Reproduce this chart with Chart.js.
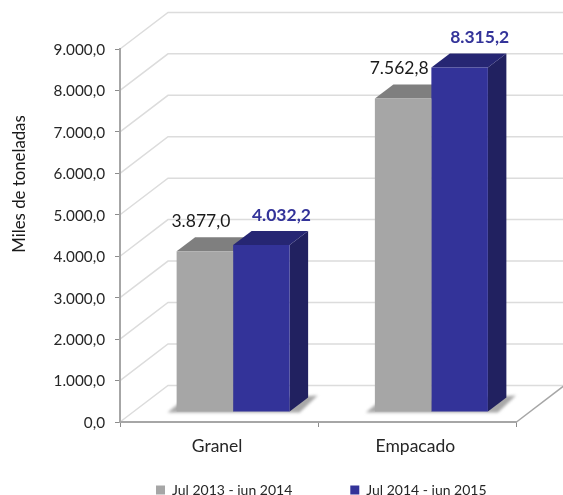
<!DOCTYPE html>
<html>
<head>
<meta charset="utf-8">
<style>html,body{margin:0;padding:0;background:#fff}canvas{display:block}</style>
<script src="https://cdn.jsdelivr.net/npm/chart.js@4"></script>
</head>
<body>
<canvas id="c" width="563" height="495"></canvas>
<script>
const categories = ['Granel', 'Empacado'];
const seriesNames = ['Jul 2013 - jun 2014', 'Jul 2014 - jun 2015'];
const values2014 = [3877.0, 7562.8];
const values2015 = [4032.2, 8315.2];
const axisTitle = 'Miles de toneladas';
const fontFamily = 'Lato, "Open Sans", sans-serif';

const fmt = v => {
  const [a, b] = v.toFixed(1).split('.');
  return a.replace(/\B(?=(\d{3})+$)/g, '.') + ',' + b;
};

const WALL = {dx: 48, dy: -36.6};
const BAR_OFF = {dx: 14, dy: -10};
const DEPTH = {dx: 18.5, dy: -14};
const faces = [
  {front: '#a6a6a6', top: '#7f7f7f', side: '#6d6d6d', label: '#1a1a1a', bold: false, ldx: -4, size: 17.5},
  {front: '#333399', top: '#262673', side: '#212160', label: '#333399', bold: true, ldx: 20, size: 17.5}
];

function poly(ctx, pts, fill) {
  ctx.beginPath();
  pts.forEach((p, i) => i ? ctx.lineTo(p[0], p[1]) : ctx.moveTo(p[0], p[1]));
  ctx.closePath();
  ctx.fillStyle = fill;
  ctx.fill();
}

const scene = {
  id: 'scene',
  beforeLayout(chart) {
    const lg = chart.legend;
    if (lg && !lg._fixed) {
      const f = lg.fit;
      lg.fit = function () { f.call(this); this.height = 20; };
      lg._fixed = true;
    }
  },
  afterLayout(chart) {
    const lg = chart.legend;
    lg.left = 156 - lg.options.labels.padding;
    lg.right = lg.left + 480;
    lg.top = 483 - lg.options.labels.padding;
  },
  beforeDraw(chart) {
    const {ctx, scales: {x, y}} = chart;
    const l = x.left, r = x.right;
    ctx.save();
    ctx.lineWidth = 1.5;
    ctx.strokeStyle = '#dcdcdc';
    y.ticks.forEach(t => {
      const py = y.getPixelForValue(t.value);
      ctx.beginPath();
      ctx.moveTo(l, py);
      ctx.lineTo(l + WALL.dx, py + WALL.dy);
      ctx.lineTo(r + WALL.dx, py + WALL.dy);
      ctx.stroke();
    });
    const b = y.getPixelForValue(0);
    ctx.strokeStyle = '#a6a6a6';
    ctx.lineWidth = 1.5;
    ctx.beginPath();
    ctx.moveTo(r, b);
    ctx.lineTo(r + WALL.dx, b + WALL.dy);
    ctx.stroke();
    ctx.fillStyle = '#1a1a1a';
    ctx.font = '16.8px ' + fontFamily;
    ctx.textAlign = 'center';
    ctx.textBaseline = 'middle';
    ctx.translate(20, 184);
    ctx.rotate(-Math.PI / 2);
    ctx.fillText(axisTitle, 0, 0);
    ctx.restore();
  },
  beforeDatasetsDraw(chart) {
    const {ctx} = chart;
    ctx.save();
    ctx.translate(BAR_OFF.dx, BAR_OFF.dy);
    const m0 = chart.getDatasetMeta(0).data, m1 = chart.getDatasetMeta(1).data;
    m0.forEach((el, i) => {
      const g = el.getProps(['x', 'base', 'width'], true);
      const h = m1[i].getProps(['x', 'base', 'width'], true);
      const left = g.x - g.width / 2, right = h.x + h.width / 2, base = g.base;
      ctx.save();
      ctx.filter = 'blur(1.5px)';
      poly(ctx, [[left - 9, base + 1], [left + 2, base - 8], [right + 28, base - 16],
                 [right + 10, base + 1]], '#a8a8a8');
      ctx.restore();
    });
    [m0, m1].forEach((data, k) => {
      data.forEach(el => {
        const p = el.getProps(['x', 'y', 'base', 'width'], true);
        const a = p.x - p.width / 2, c = p.x + p.width / 2;
        poly(ctx, [[c, p.y], [c + DEPTH.dx, p.y + DEPTH.dy], [c + DEPTH.dx, p.base + DEPTH.dy], [c, p.base]], faces[k].side);
        poly(ctx, [[a, p.y], [a + DEPTH.dx, p.y + DEPTH.dy], [c + DEPTH.dx, p.y + DEPTH.dy], [c, p.y]], faces[k].top);
      });
    });
  },
  afterDatasetsDraw(chart) {
    const {ctx} = chart;
    ctx.restore();
    ctx.save();
    ctx.textAlign = 'center';
    ctx.textBaseline = 'middle';
    [0, 1].forEach(k => {
      chart.getDatasetMeta(k).data.forEach((el, i) => {
        const p = el.getProps(['x', 'y'], true);
        const v = chart.data.datasets[k].data[i];
        ctx.font = (faces[k].bold ? 'bold ' : '') + faces[k].size + 'px ' + fontFamily;
        ctx.fillStyle = faces[k].label;
        ctx.fillText(fmt(v), p.x + BAR_OFF.dx + faces[k].ldx, p.y + BAR_OFF.dy - 30);
      });
    });
    ctx.restore();
  }
};

new Chart(document.getElementById('c'), {
  type: 'bar',
  data: {
    labels: categories,
    datasets: [
      {label: seriesNames[0], data: values2014, backgroundColor: faces[0].front, clip: false},
      {label: seriesNames[1], data: values2015, backgroundColor: faces[1].front, clip: false}
    ]
  },
  plugins: [scene],
  options: {
    responsive: false,
    animation: false,
    layout: {padding: {top: 49, right: 46.5, left: 0, bottom: 0}},
    datasets: {bar: {barPercentage: 1, categoryPercentage: 0.57}},
    scales: {
      x: {
        grid: {display: true, drawOnChartArea: false, drawTicks: true, tickLength: 5, color: '#8c8c8c', offset: true},
        border: {display: true, color: '#a6a6a6', width: 2},
        ticks: {color: '#262626', font: {family: fontFamily, size: 17.5}, padding: 9, maxRotation: 0, labelOffset: -2},
        afterFit(s) { s.height = 53; }
      },
      y: {
        min: 0, max: 9000,
        grid: {display: true, drawOnChartArea: false, drawTicks: true, tickLength: 5, color: '#8c8c8c'},
        border: {display: true, color: '#a6a6a6', width: 2},
        ticks: {stepSize: 1000, color: '#262626', font: {family: fontFamily, size: 15.3}, padding: 10, labelOffset: 1, callback: v => fmt(v)},
        afterFit(s) { s.width = 120; }
      }
    },
    plugins: {
      tooltip: {enabled: false},
      title: {display: false},
      legend: {
        display: true,
        position: 'bottom',
        align: 'start',
        labels: {boxWidth: 9, boxHeight: 9, padding: 58, color: '#262626', font: {family: fontFamily, size: 14}}
      }
    }
  }
});
</script>
</body>
</html>
